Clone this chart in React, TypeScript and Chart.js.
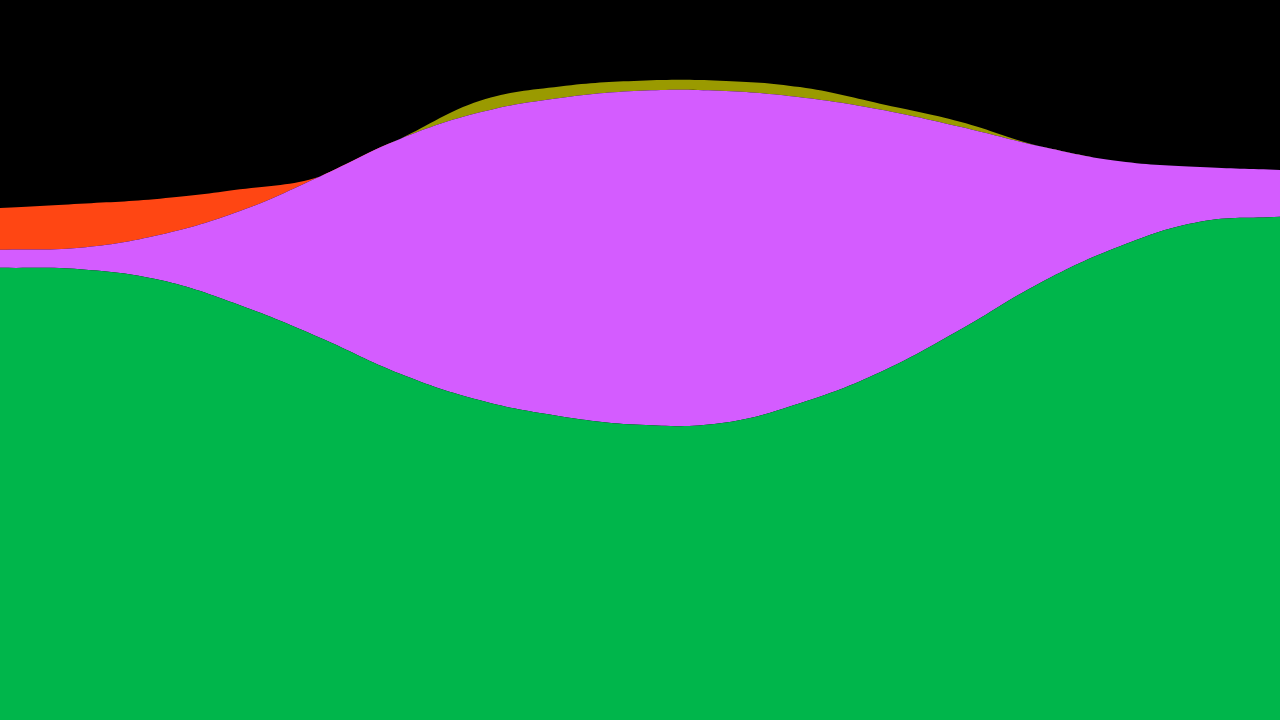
import { useEffect, useRef } from "react";
import { Chart, registerables } from "chart.js";

Chart.register(...registerables);

// 17 evenly spaced samples across the stream
const LABELS = ["0", "1", "2", "3", "4", "5", "6", "7", "8", "9", "10", "11", "12", "13", "14", "15", "16"];

const GREEN = [62.8, 62.6, 61.1, 57.6, 53.1, 48.1, 44.4, 42.2, 41.0, 41.2, 44.0, 48.3, 54.2, 60.7, 65.8, 69.2, 69.9];
const PURPLE = [2.5, 3.0, 6.3, 13.1, 22.4, 32.6, 40.0, 44.2, 46.4, 46.2, 42.5, 36.5, 28.2, 19.0, 11.8, 7.6, 6.5];
const ORANGE = [5.8, 6.1, 5.0, 3.0, 0, 0, 0, 0, 0, 0, 0, 0, 0, 0, 0, 0, 0];
const OLIVE = [0, 0, 0, 0, 0, 0, 1.6, 1.6, 1.4, 1.4, 1.4, 0.8, 0.7, 0, 0, 0, 0];

const COLORS = {
  green: "#00b64b",
  purple: "#d45cff",
  orange: "#ff4613",
  olive: "#9a9a00",
};

function layer(label: string, data: number[], color: string, fill: string) {
  return {
    label,
    data,
    backgroundColor: color,
    borderColor: "transparent",
    borderWidth: 0,
    pointRadius: 0,
    fill,
    tension: 0.4,
  };
}

export default function App() {
  const ref = useRef<HTMLCanvasElement>(null);

  useEffect(() => {
    document.body.style.margin = "0";
    if (!ref.current) return;
    const chart = new Chart(ref.current, {
      type: "line",
      data: {
        labels: LABELS,
        datasets: [
          layer("green", GREEN, COLORS.green, "origin"),
          layer("purple", PURPLE, COLORS.purple, "-1"),
          layer("orange", ORANGE, COLORS.orange, "-1"),
          layer("olive", OLIVE, COLORS.olive, "-1"),
        ],
      },
      options: {
        animation: false,
        responsive: true,
        maintainAspectRatio: false,
        layout: { padding: 0 },
        plugins: { legend: { display: false }, tooltip: { enabled: false } },
        scales: {
          x: { display: false, offset: false },
          y: { display: false, stacked: true, min: 0, max: 100 },
        },
      },
    });
    return () => chart.destroy();
  }, []);

  return (
    <div style={{ width: 1280, height: 720, background: "#000", position: "relative" }}>
      <canvas ref={ref} />
    </div>
  );
}
